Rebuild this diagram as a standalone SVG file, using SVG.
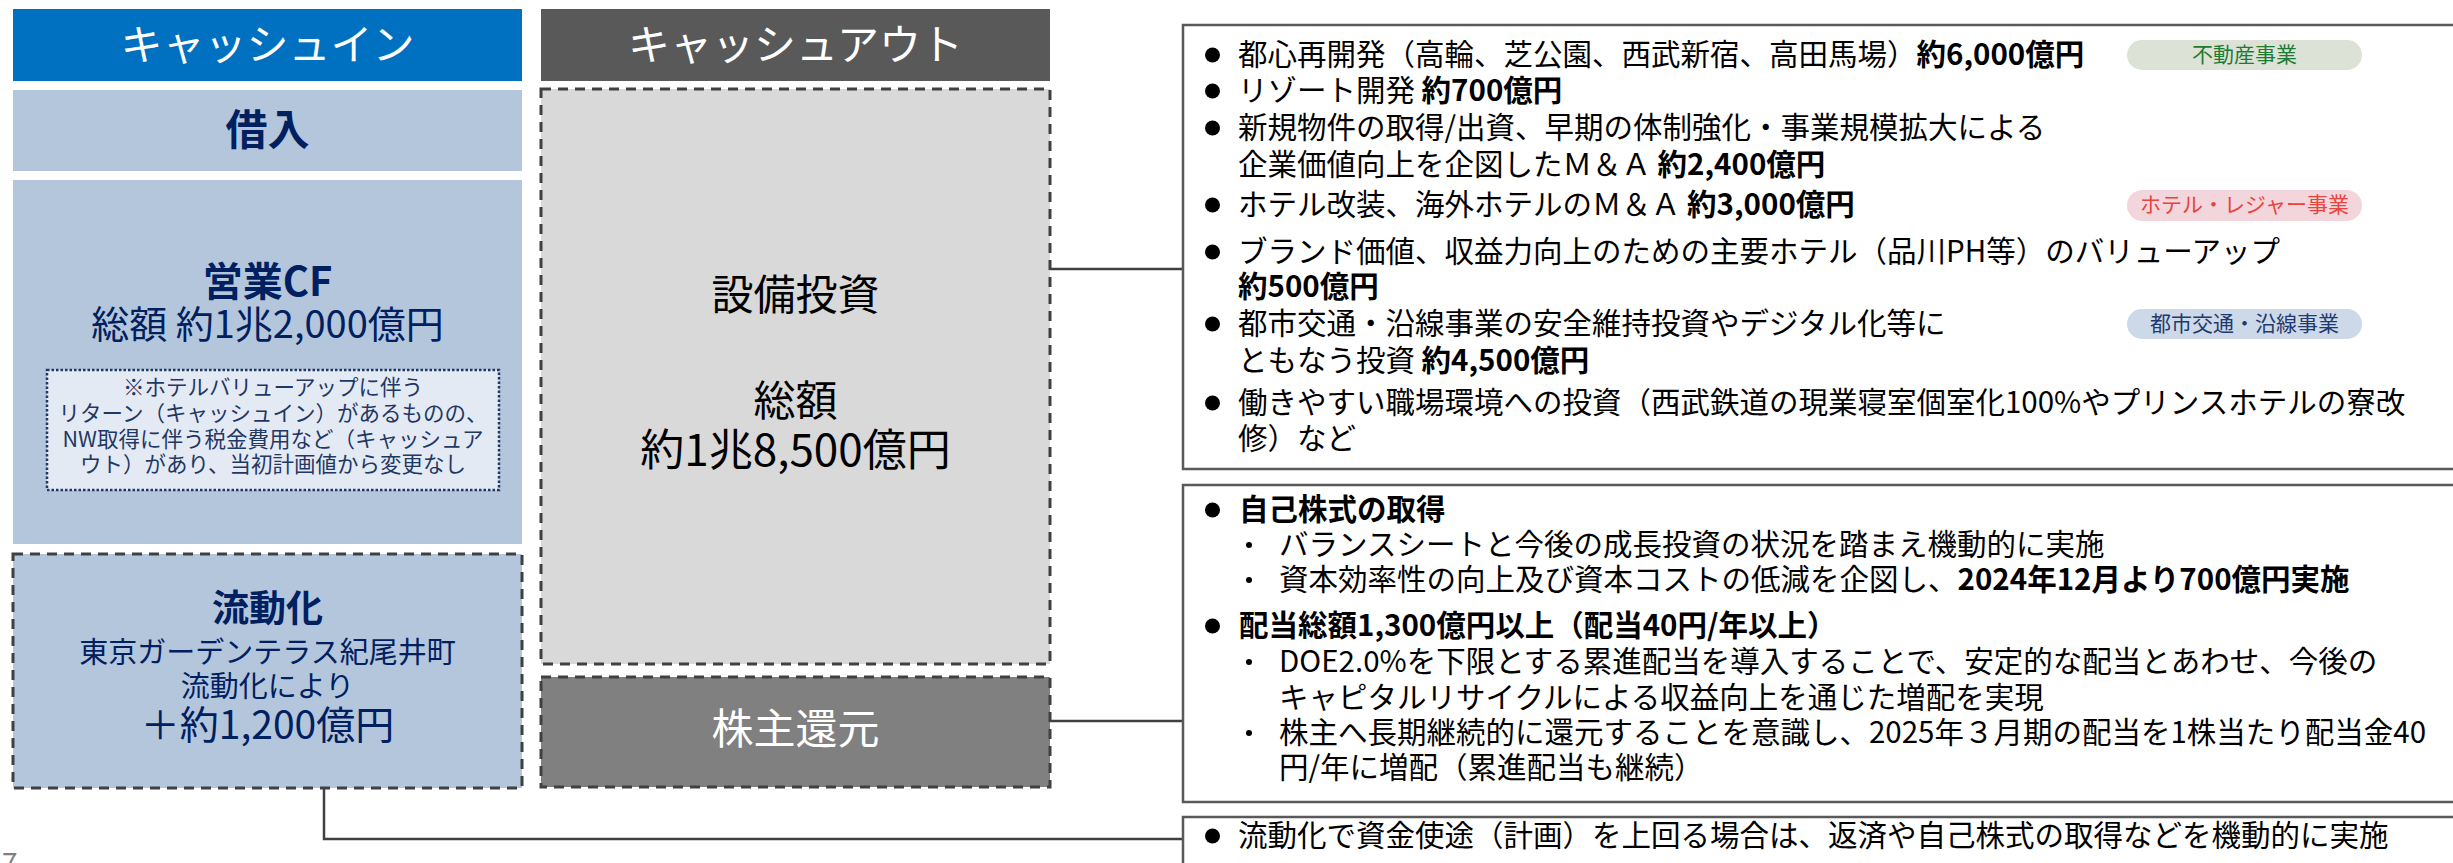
<svg xmlns="http://www.w3.org/2000/svg" width="2453" height="863" viewBox="0 0 2453 863">
<style>
text{font-family:"Noto Sans CJK JP","Noto Sans",sans-serif}
.hdr{font-size:42px;fill:#ffffff;text-anchor:middle}
.nv{fill:#002060;text-anchor:middle}
.blk{fill:#000000;text-anchor:middle}
.note{font-size:21.5px;fill:#1f3864;text-anchor:middle}
.r{font-size:29.5px;fill:#000000}
.b{font-weight:bold}
.pill{font-size:21px;text-anchor:middle}
.frame{fill:#ffffff;stroke:#595959;stroke-width:2.5}
.dash{stroke:#404040;stroke-width:3;stroke-dasharray:10 7}
.conn{fill:none;stroke:#404040;stroke-width:2.5}
.dot{fill:#000000}
</style>
<rect width="2453" height="863" fill="#ffffff"/>

<g id="connectors">
<polyline class="conn" points="1050,269 1183,269"/>
<polyline class="conn" points="1050,721 1183,721"/>
<polyline class="conn" points="324,788 324,839 1183,839"/>
</g>

<g id="header-in">
<rect x="13" y="9" width="509" height="72" fill="#0070c0"/>
<text class="hdr" x="267.5" y="60">キャッシュイン</text>
</g>
<g id="header-out">
<rect x="541" y="9" width="509" height="72" fill="#595959"/>
<text class="hdr" x="795.5" y="60">キャッシュアウト</text>
</g>

<g id="borrow">
<rect x="13" y="90" width="509" height="81" fill="#b4c6dc"/>
<text class="nv b" x="267.5" y="145" font-size="42">借入</text>
</g>

<g id="opcf">
<rect x="13" y="180" width="509" height="364" fill="#b4c6dc"/>
<text class="nv b" x="267.5" y="296" font-size="40">営業CF</text>
<text class="nv" x="267.5" y="338" font-size="38">総額 約1兆2,000億円</text>
<rect x="47" y="370" width="452" height="120" fill="#e4eaf4" stroke="#1f3864" stroke-width="2.5" stroke-dasharray="2.5 2"/>
<text class="note" x="273" y="395">※ホテルバリューアップに伴う</text>
<text class="note" x="273" y="421">リターン（キャッシュイン）があるものの、</text>
<text class="note" x="273" y="447">NW取得に伴う税金費用など（キャッシュア</text>
<text class="note" x="273" y="472">ウト）があり、当初計画値から変更なし</text>
</g>

<g id="liquid">
<rect x="13" y="554" width="509" height="234" fill="#b4c6dc" class="dash"/>
<text class="nv b" x="267.5" y="622" font-size="37">流動化</text>
<text class="nv" x="267.5" y="663" font-size="29">東京ガーデンテラス紀尾井町</text>
<text class="nv" x="267.5" y="697" font-size="29">流動化により</text>
<text class="nv" x="267.5" y="739" font-size="39">＋約1,200億円</text>
</g>

<g id="capex">
<rect x="541" y="89" width="509" height="575" fill="#d9d9d9" class="dash"/>
<text class="blk" x="795.5" y="310" font-size="42">設備投資</text>
<text class="blk" x="795.5" y="416" font-size="42">総額</text>
<text class="blk" x="795.5" y="466" font-size="44">約1兆8,500億円</text>
</g>

<g id="return">
<rect x="541" y="677" width="509" height="110" fill="#808080" class="dash"/>
<text class="hdr" x="795.5" y="744" font-size="41">株主還元</text>
</g>

<g id="capex-detail">
<rect class="frame" x="1183" y="25" width="1290" height="444"/>
<circle class="dot" cx="1212.5" cy="55" r="7.5"/>
<text class="r" x="1238" y="65">都心再開発（高輪、芝公園、西武新宿、高田馬場）<tspan class="b">約6,000億円</tspan></text>
<circle class="dot" cx="1212.5" cy="91" r="7.5"/>
<text class="r" x="1238" y="101">リゾート開発 <tspan class="b">約700億円</tspan></text>
<circle class="dot" cx="1212.5" cy="128" r="7.5"/>
<text class="r" x="1238" y="138">新規物件の取得/出資、早期の体制強化・事業規模拡大による</text>
<text class="r" x="1238" y="175">企業価値向上を企図したＭ＆Ａ <tspan class="b">約2,400億円</tspan></text>
<circle class="dot" cx="1212.5" cy="205" r="7.5"/>
<text class="r" x="1238" y="215">ホテル改装、海外ホテルのＭ＆Ａ <tspan class="b">約3,000億円</tspan></text>
<circle class="dot" cx="1212.5" cy="252" r="7.5"/>
<text class="r" x="1238" y="262">ブランド価値、収益力向上のための主要ホテル（品川PH等）のバリューアップ</text>
<text class="r b" x="1238" y="297">約500億円</text>
<circle class="dot" cx="1212.5" cy="324" r="7.5"/>
<text class="r" x="1238" y="334">都市交通・沿線事業の安全維持投資やデジタル化等に</text>
<text class="r" x="1238" y="371">ともなう投資 <tspan class="b">約4,500億円</tspan></text>
<circle class="dot" cx="1212.5" cy="403" r="7.5"/>
<text class="r" x="1238" y="413">働きやすい職場環境への投資（西武鉄道の現業寝室個室化100%やプリンスホテルの寮改</text>
<text class="r" x="1238" y="449">修）など</text>
</g>

<g id="tag-realestate">
<rect x="2127" y="40" width="235" height="30" rx="15" fill="#dce3d6"/>
<text class="pill" x="2244.5" y="62" fill="#1e7b34">不動産事業</text>
</g>
<g id="tag-hotel">
<rect x="2127" y="190" width="235" height="31" rx="15.5" fill="#f2d6dc"/>
<text class="pill" x="2244.5" y="212" fill="#e8433d">ホテル・レジャー事業</text>
</g>
<g id="tag-transport">
<rect x="2127" y="309" width="235" height="30" rx="15" fill="#cdd8e8"/>
<text class="pill" x="2244.5" y="331" fill="#1f3a70">都市交通・沿線事業</text>
</g>

<g id="return-detail">
<rect class="frame" x="1183" y="485" width="1290" height="317"/>
<circle class="dot" cx="1212.5" cy="510" r="7.5"/>
<text class="r b" x="1239" y="520">自己株式の取得</text>
<circle class="dot" cx="1249" cy="545" r="3"/>
<text class="r" x="1279" y="555">バランスシートと今後の成長投資の状況を踏まえ機動的に実施</text>
<circle class="dot" cx="1249" cy="580" r="3"/>
<text class="r" x="1279" y="590">資本効率性の向上及び資本コストの低減を企図し、<tspan class="b">2024年12月より700億円実施</tspan></text>
<circle class="dot" cx="1212.5" cy="626" r="7.5"/>
<text class="r b" x="1239" y="636">配当総額1,300億円以上（配当40円/年以上）</text>
<circle class="dot" cx="1249" cy="662" r="3"/>
<text class="r" x="1279" y="672">DOE2.0%を下限とする累進配当を導入することで、安定的な配当とあわせ、今後の</text>
<text class="r" x="1279" y="708">キャピタルリサイクルによる収益向上を通じた増配を実現</text>
<circle class="dot" cx="1249" cy="733" r="3"/>
<text class="r" x="1279" y="743">株主へ長期継続的に還元することを意識し、2025年３月期の配当を1株当たり配当金40</text>
<text class="r" x="1279" y="778">円/年に増配（累進配当も継続）</text>
</g>

<g id="liquid-detail">
<rect class="frame" x="1183" y="817" width="1290" height="80"/>
<circle class="dot" cx="1212.5" cy="836" r="7.5"/>
<text class="r" x="1238" y="846">流動化で資金使途（計画）を上回る場合は、返済や自己株式の取得などを機動的に実施</text>
</g>

<text x="2" y="873" font-size="28" fill="#7f7f7f">7</text>
</svg>
